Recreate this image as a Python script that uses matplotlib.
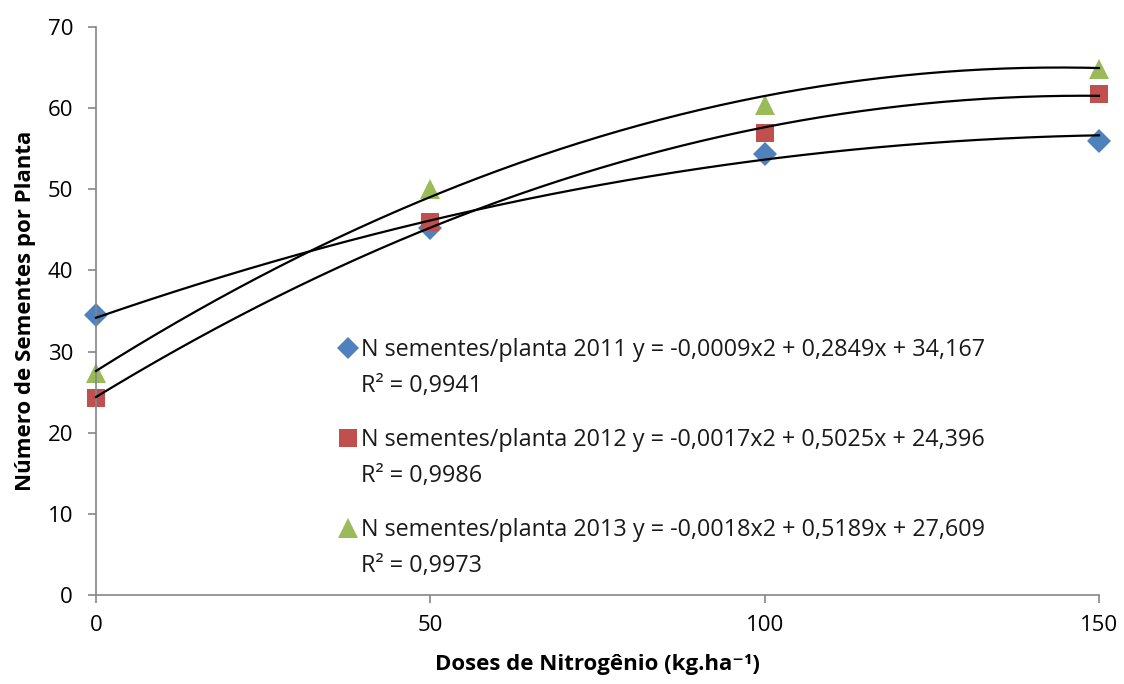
import matplotlib.pyplot as plt
import numpy as np

plt.rcParams['font.family'] = ['Open Sans', 'DejaVu Sans']

# Nitrogen doses and seeds per plant for each season
doses = [0, 50, 100, 150]
seeds_2011 = [34.5, 45.2, 54.3, 56.0]
seeds_2012 = [24.3, 46.0, 56.9, 61.7]
seeds_2013 = [27.3, 50.0, 60.4, 64.8]

# quadratic trendline coefficients (a, b, c) for y = a*x^2 + b*x + c
fit_2011 = [-0.0009, 0.2849, 34.167]
fit_2012 = [-0.0017, 0.5025, 24.396]
fit_2013 = [-0.0018, 0.5189, 27.609]

labels = [
    'N sementes/planta 2011 y = -0,0009x2 + 0,2849x + 34,167\nR² = 0,9941',
    'N sementes/planta 2012 y = -0,0017x2 + 0,5025x + 24,396\nR² = 0,9986',
    'N sementes/planta 2013 y = -0,0018x2 + 0,5189x + 27,609\nR² = 0,9973',
]

fig = plt.figure(figsize=(11.24, 6.84), dpi=100)
ax = fig.add_axes([96 / 1124, 89 / 684, 1003 / 1124, 568 / 684])

series = [
    (seeds_2011, fit_2011, 'D', '#4F81BD', 12),
    (seeds_2012, fit_2012, 's', '#C0504D', 13.5),
    (seeds_2013, fit_2013, '^', '#9BBB59', 15),
]

xs = np.linspace(0, 150, 200)
handles = []
for vals, coef, mk, col, ms in series:
    h, = ax.plot(doses, vals, linestyle='none', marker=mk, color=col,
                 markersize=ms, markeredgewidth=0, zorder=2, clip_on=False)
    ax.plot(xs, np.polyval(coef, xs), color='black', lw=1.6, zorder=3,
            clip_on=False)
    handles.append(h)

leg = ax.legend(handles, labels, loc='upper left', bbox_to_anchor=(0.243, 0.452),
                frameon=False, fontsize=16.8, handlelength=0.7, handletextpad=0.2,
                labelspacing=1.3, markerscale=0.95, borderaxespad=0,
                borderpad=0, handleheight=1.2)
for t in leg.get_texts():
    t.set_linespacing(1.65)
    t.set_color('#1a1a1a')
# keep each marker beside the first line of its entry
for col in leg._legend_handle_box.get_children():
    for row in col.get_children():
        row.align = 'top'

ax.set_xlim(0, 150)
ax.set_ylim(0, 70)
ax.set_xticks(doses)
ax.set_yticks(range(0, 71, 10))
ax.tick_params(labelsize=16, color='#868686', length=5.5, width=1.2, pad=9)
ax.tick_params(axis='y', pad=11)
for side in ['top', 'right']:
    ax.spines[side].set_visible(False)
for side in ['left', 'bottom']:
    ax.spines[side].set_color('#868686')
    ax.spines[side].set_linewidth(1.2)

ax.set_xlabel('Doses de Nitrogênio (kg.ha⁻¹)', fontsize=16,
              fontweight='bold', labelpad=13)
ax.set_ylabel('Número de Sementes por Planta', fontsize=16,
              fontweight='bold', labelpad=8)

fig.savefig('out.png', dpi=100)
